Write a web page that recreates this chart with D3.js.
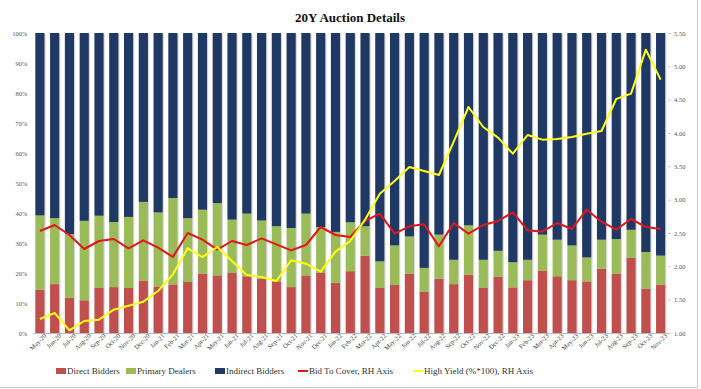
<!DOCTYPE html>
<html>
<head>
<meta charset="utf-8">
<script src="https://cdn.jsdelivr.net/npm/d3@7"></script>
<style>
    body { margin: 0; background: #fff; }
    #chart text { font-family: "Liberation Serif", "DejaVu Serif", serif; }
</style>
</head>
<body>
<div id="chart"></div>
<script>
// months of each 20Y auction
const months = ["May-20","Jun-20","Jul-20","Aug-20","Sep-20","Oct-20","Nov-20","Dec-20",
    "Jan-21","Feb-21","Mar-21","Apr-21","May-21","Jun-21","Jul-21","Aug-21","Sep-21","Oct-21","Nov-21","Dec-21",
    "Jan-22","Feb-22","Mar-22","Apr-22","May-22","Jun-22","Jul-22","Aug-22","Sep-22","Oct-22","Nov-22","Dec-22",
    "Jan-23","Feb-23","Mar-23","Apr-23","May-23","Jun-23","Jul-23","Aug-23","Sep-23","Oct-23","Nov-23"];

// % of allotment
const directBidders = [14.4,16.3,11.7,10.9,15.0,15.3,15.0,17.5,15.5,16.2,17.0,19.8,19.2,20.0,18.9,18.1,17.2,15.3,19.2,20.0,
    16.7,20.6,25.8,15.0,16.1,19.8,13.7,18.1,16.3,19.4,15.0,18.8,15.2,17.6,20.8,18.9,17.6,17.2,21.4,19.8,25.0,14.8,16.1];
const primaryDealers = [24.8,22.0,21.3,26.5,24.1,21.7,23.7,26.2,24.7,28.8,21.3,21.3,24.1,17.8,20.9,19.4,18.4,19.7,20.6,15.3,
    17.0,16.3,9.8,8.9,13.1,12.4,8.0,14.7,8.1,16.5,9.4,8.6,8.4,6.8,12.0,12.2,11.6,8.0,9.7,11.5,9.4,12.2,9.7];
const indirectBidders = [60.8,61.7,67.0,62.6,60.9,63.0,61.3,56.3,59.8,55.0,61.7,58.9,56.7,62.2,60.2,62.5,64.4,65.0,60.2,64.7,
    66.3,63.1,64.4,76.1,70.8,67.8,78.3,67.2,75.6,64.1,75.6,72.6,76.4,75.6,67.2,68.9,70.8,74.8,68.9,68.7,65.6,73.0,74.2];

// right hand axis
const bidToCover = [2.53,2.62,2.47,2.26,2.38,2.41,2.27,2.39,2.28,2.14,2.50,2.40,2.25,2.38,2.32,2.42,2.33,2.24,2.32,2.59,
    2.47,2.44,2.68,2.79,2.49,2.60,2.63,2.30,2.65,2.49,2.62,2.68,2.81,2.54,2.52,2.65,2.56,2.85,2.67,2.55,2.71,2.59,2.56];
const highYield = [1.21,1.30,1.04,1.18,1.20,1.35,1.41,1.47,1.63,1.88,2.27,2.14,2.29,2.08,1.87,1.84,1.78,2.09,2.04,1.92,
    2.22,2.38,2.70,3.09,3.28,3.49,3.43,3.37,3.87,4.39,4.09,3.93,3.69,3.97,3.90,3.91,3.94,3.99,4.03,4.51,4.59,5.25,4.80];

const leftTicks = [0,10,20,30,40,50,60,70,80,90,100];
const rightTicks = [1.0,1.5,2.0,2.5,3.0,3.5,4.0,4.5,5.0,5.5];

const seriesKeys = ["direct","primary","indirect"];
const seriesColors = {direct: "#c0504d", primary: "#9bbb59", indirect: "#1f3864"};


class AuctionChart {
    constructor() {
        this.data = months.map((m, i) => ({
            month: m,
            direct: directBidders[i],
            primary: primaryDealers[i],
            indirect: indirectBidders[i],
            btc: bidToCover[i],
            yield: highYield[i]
        }));
        this.initVis();
    }

    initVis() {
        let vis = this;

        vis.W = 701;
        vis.H = 389;
        vis.margin = {top: 33, right: 33, bottom: 56, left: 32.5};
        vis.width = vis.W - vis.margin.left - vis.margin.right;
        vis.height = vis.H - vis.margin.top - vis.margin.bottom;

        vis.svg = d3.select("#chart")
            .append("svg")
            .attr("width", vis.W)
            .attr("height", vis.H);

        // frame edges visible in the screenshot
        vis.svg.append("line")
            .attr("x1", 697.5).attr("x2", 697.5).attr("y1", 0).attr("y2", 387.5)
            .attr("stroke", "#c8c8c8");
        vis.svg.append("line")
            .attr("x1", 0).attr("x2", 697.5).attr("y1", 387.5).attr("y2", 387.5)
            .attr("stroke", "#c8c8c8");

        // title
        vis.svg.append("text")
            .attr("x", 350)
            .attr("y", 22)
            .attr("text-anchor", "middle")
            .attr("font-size", 13)
            .attr("font-weight", "bold")
            .attr("fill", "#111")
            .text("20Y Auction Details");

        vis.g = vis.svg.append("g")
            .attr("transform", `translate(${vis.margin.left},${vis.margin.top})`);

        vis.x = d3.scaleBand()
            .domain(months)
            .range([0, vis.width])
            .paddingInner(0.38)
            .paddingOuter(0.19);

        vis.yL = d3.scaleLinear().domain([0, 100]).range([vis.height, 0]);
        vis.yR = d3.scaleLinear().domain([1, 5.5]).range([vis.height, 0]);

        // stacked bars
        let stack = d3.stack().keys(seriesKeys)(vis.data);

        // soft shadow like the excel original
        vis.g.append("g")
            .selectAll("rect")
            .data(vis.data)
            .join("rect")
            .attr("x", d => vis.x(d.month) + 1.2)
            .attr("y", vis.yL(100) + 1)
            .attr("width", vis.x.bandwidth())
            .attr("height", vis.height - 1)
            .attr("fill", "#d9d9d9");

        vis.g.append("g")
            .selectAll("g")
            .data(stack)
            .join("g")
            .attr("fill", d => seriesColors[d.key])
            .selectAll("rect")
            .data(d => d)
            .join("rect")
            .attr("x", d => vis.x(d.data.month))
            .attr("y", d => vis.yL(d[1]))
            .attr("height", d => vis.yL(d[0]) - vis.yL(d[1]))
            .attr("width", vis.x.bandwidth());

        // left axis
        let axL = vis.g.append("g")
            .call(d3.axisLeft(vis.yL).tickValues(leftTicks).tickFormat(d => d + "%").tickSize(0).tickPadding(5));
        axL.select(".domain").remove();
        axL.selectAll("text").attr("font-size", 6.5).attr("fill", "#555")
            .style("font-family", "Liberation Serif");

        // right axis
        let axR = vis.g.append("g")
            .attr("transform", `translate(${vis.width},0)`)
            .call(d3.axisRight(vis.yR).tickValues(rightTicks).tickFormat(d3.format(".2f")).tickSize(3).tickPadding(3));
        axR.select(".domain").remove();
        axR.selectAll("line").attr("stroke", "#ccc");
        axR.selectAll("text").attr("font-size", 6.5).attr("fill", "#555")
            .style("font-family", "Liberation Serif");

        // bottom axis
        let axB = vis.g.append("g")
            .attr("transform", `translate(0,${vis.height})`)
            .call(d3.axisBottom(vis.x).tickSize(0).tickPadding(4));
        axB.select(".domain").attr("stroke", "#bbb");
        axB.selectAll("text")
            .attr("font-size", 6.5)
            .attr("fill", "#444")
            .style("font-family", "Liberation Serif")
            .attr("text-anchor", "end")
            .attr("dx", "0.4em")
            .attr("dy", "0.5em")
            .attr("transform", "rotate(-45)");

        // lines on right axis
        let lineBtc = d3.line()
            .x(d => vis.x(d.month) + vis.x.bandwidth() / 2)
            .y(d => vis.yR(d.btc));
        let lineYield = d3.line()
            .x(d => vis.x(d.month) + vis.x.bandwidth() / 2)
            .y(d => vis.yR(d.yield));

        vis.g.append("path")
            .datum(vis.data)
            .attr("d", lineBtc)
            .attr("fill", "none")
            .attr("stroke", "#e2161b")
            .attr("stroke-width", 2)
            .attr("stroke-linejoin", "round");

        vis.g.append("path")
            .datum(vis.data)
            .attr("d", lineYield)
            .attr("fill", "none")
            .attr("stroke", "#ffff14")
            .attr("stroke-width", 2)
            .attr("stroke-linejoin", "round");

        // legend
        let legendItems = [
            {label: "Direct Bidders", color: seriesColors.direct, type: "rect", x: 56},
            {label: "Primary Dealers", color: seriesColors.primary, type: "rect", x: 126},
            {label: "Indirect Bidders", color: seriesColors.indirect, type: "rect", x: 215},
            {label: "Bid To Cover, RH Axis", color: "#e2161b", type: "line", x: 298},
            {label: "High Yield (%*100), RH Axis", color: "#ffff14", type: "line", x: 413}
        ];

        let lg = vis.svg.append("g")
            .attr("transform", "translate(0,371)");

        let item = lg.selectAll("g")
            .data(legendItems)
            .join("g")
            .attr("transform", d => `translate(${d.x},0)`);

        item.filter(d => d.type === "rect")
            .append("rect")
            .attr("x", 0).attr("y", -3)
            .attr("width", 10).attr("height", 6)
            .attr("fill", d => d.color);

        item.filter(d => d.type === "line")
            .append("line")
            .attr("x1", 0).attr("x2", 10)
            .attr("y1", 0).attr("y2", 0)
            .attr("stroke", d => d.color)
            .attr("stroke-width", 2);

        item.append("text")
            .attr("x", 11)
            .attr("y", 3)
            .attr("font-size", 9)
            .attr("fill", "#333")
            .text(d => d.label);
    }
}

new AuctionChart();
</script>
</body>
</html>
